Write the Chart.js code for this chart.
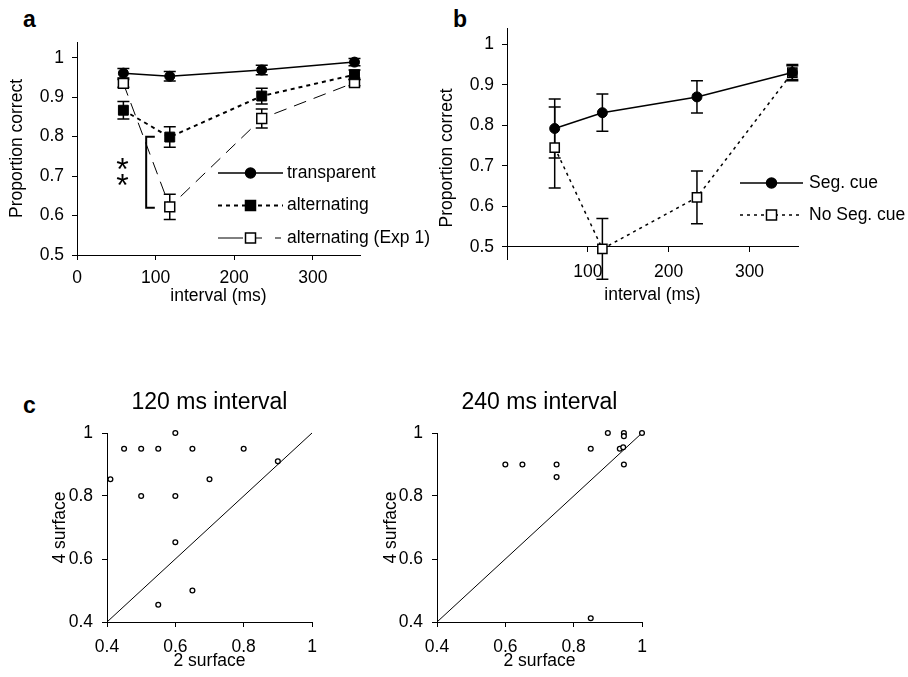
<!DOCTYPE html>
<html>
<head>
<meta charset="utf-8">
<script src="https://cdn.jsdelivr.net/npm/chart.js@4.4.0/dist/chart.umd.min.js"></script>
<style>
  body { margin: 0; background: #fff; width: 908px; height: 677px; position: relative; overflow: hidden;
         font-family: "Liberation Sans", Arial, sans-serif; }
  canvas { position: absolute; }
  .panel { position: absolute; font-weight: bold; font-size: 23px; line-height: 1; }
</style>
</head>
<body>
<div class="panel" style="left:23px;top:8px">a</div>
<div class="panel" style="left:453px;top:8px">b</div>
<div class="panel" style="left:23px;top:394px">c</div>
<canvas id="chartA" width="440" height="290" style="left:0;top:30px"></canvas>
<canvas id="chartB" width="472" height="320" style="left:436px;top:0"></canvas>
<canvas id="chartC1" width="330" height="297" style="left:0;top:380px"></canvas>
<canvas id="chartC2" width="340" height="297" style="left:330px;top:380px"></canvas>
<script>
// interval (ms) for panels a and b
const intervals = [59, 118, 235, 353];

// panel a
const transparent = [0.961, 0.953, 0.969, 0.989];
const transparentErr = [0.012, 0.012, 0.012, 0.009];
const alternating = [0.867, 0.799, 0.903, 0.957];
const alternatingErr = [0.022, 0.026, 0.02, 0.012];
const alternatingExp1 = [0.935, 0.622, 0.846, 0.937];
const alternatingExp1Err = [0.01, 0.032, 0.024, 0.008];

// panel b
const segCue = [0.792, 0.831, 0.870, 0.930];
const segCueErr = [0.073, 0.046, 0.04, 0.02];
const noSegCue = [0.745, 0.495, 0.622, 0.930];
const noSegCueErr = [0.1, 0.075, 0.065, 0.017];

// panel c: 2 surface vs 4 surface, per subject
const twoSurface120 = [0.41, 0.45, 0.5, 0.55, 0.6, 0.65, 0.8, 0.9, 0.7, 0.5, 0.6, 0.6, 0.65, 0.55];
const fourSurface120 = [0.853, 0.95, 0.95, 0.95, 1.0, 0.95, 0.95, 0.91, 0.853, 0.8, 0.8, 0.653, 0.5, 0.455];
const twoSurface240 = [0.6, 0.65, 0.75, 0.75, 0.85, 0.85, 0.9, 0.935, 0.945, 0.947, 0.947, 0.947, 1.0];
const fourSurface240 = [0.9, 0.9, 0.9, 0.86, 0.95, 0.412, 1.0, 0.95, 0.955, 1.0, 0.99, 0.9, 1.0];
const diagonal = [0.4, 1];

// ticks
const intervalTicks = [0, 100, 200, 300];
const intervalTicksB = [100, 200, 300];
const proportionTicks = [0.5, 0.6, 0.7, 0.8, 0.9, 1];
const surfaceTicks = [0.4, 0.6, 0.8, 1];

// significance bracket in panel a
const bracketX = [88, 99];
const bracketY = [0.8, 0.62];
const starX = 58;
const starY = [0.736, 0.695];

const FAMILY = '"Liberation Sans", Arial, sans-serif';
const font = { family: FAMILY, size: 17.5 };
Chart.defaults.color = '#000';
Chart.defaults.font.family = FAMILY;

const pts = (xs, ys) => xs.map((x, i) => ({ x, y: ys[i] }));
const fixedTicks = values => scale => { scale.ticks = values.map(v => ({ value: v })); };
const noPadding = s => { s.paddingTop = 0; s.paddingBottom = 0; s.paddingLeft = 0; s.paddingRight = 0; };

function axisX(min, max, ticks, title, height, tickPad, titlePad, extra = {}) {
  return {
    type: 'linear', min, max,
    afterBuildTicks: fixedTicks(ticks),
    afterFit: s => { s.height = height; noPadding(s); },
    border: { display: true, color: '#000', width: 1 },
    grid: { display: true, drawOnChartArea: false, drawTicks: true, tickLength: 5, color: '#000' },
    ticks: { font, padding: tickPad, maxRotation: 0, callback: v => String(v) },
    title: { display: true, text: title, font, padding: { top: 0, bottom: titlePad } },
    ...extra,
  };
}

function axisY(min, max, ticks, title, width, titlePad, tickPad = 8) {
  return {
    type: 'linear', min, max,
    afterBuildTicks: fixedTicks(ticks),
    afterFit: s => { s.width = width; noPadding(s); },
    border: { display: true, color: '#000', width: 1 },
    grid: { display: true, drawOnChartArea: false, drawTicks: true, tickLength: 5, color: '#000' },
    ticks: { font, padding: tickPad, callback: v => String(v) },
    title: { display: title !== null, text: title || '', font, padding: { top: titlePad, bottom: 0 } },
  };
}

// vertical error bars, drawn under the markers
const errorBars = {
  id: 'errorBars',
  beforeDatasetsDraw(chart) {
    const { ctx, scales: { y } } = chart;
    ctx.save();
    ctx.strokeStyle = '#000';
    ctx.lineWidth = 1.5;
    chart.data.datasets.forEach((ds, di) => {
      if (!ds.errors) return;
      const meta = chart.getDatasetMeta(di);
      ds.data.forEach((p, i) => {
        const px = meta.data[i].x;
        const top = y.getPixelForValue(p.y + ds.errors[i]);
        const bot = y.getPixelForValue(p.y - ds.errors[i]);
        ctx.beginPath();
        ctx.moveTo(px, top); ctx.lineTo(px, bot);
        ctx.moveTo(px - 6, top); ctx.lineTo(px + 6, top);
        ctx.moveTo(px - 6, bot); ctx.lineTo(px + 6, bot);
        ctx.stroke();
      });
    });
    ctx.restore();
  },
};

// bracket and asterisks in panel a
const sigMarks = {
  id: 'sigMarks',
  afterDraw(chart, args, opts) {
    if (!opts.show) return;
    const { ctx, scales: { x, y } } = chart;
    const x0 = x.getPixelForValue(bracketX[0]);
    const x1 = x.getPixelForValue(bracketX[1]);
    const y0 = y.getPixelForValue(bracketY[0]);
    const y1 = y.getPixelForValue(bracketY[1]);
    ctx.save();
    ctx.strokeStyle = '#000';
    ctx.lineWidth = 2;
    ctx.beginPath();
    ctx.moveTo(x1, y0); ctx.lineTo(x0, y0); ctx.lineTo(x0, y1); ctx.lineTo(x1, y1);
    ctx.stroke();
    ctx.fillStyle = '#000';
    ctx.font = '32px ' + FAMILY;
    ctx.textAlign = 'center';
    ctx.textBaseline = 'alphabetic';
    starY.forEach(v => ctx.fillText('*', x.getPixelForValue(starX), y.getPixelForValue(v) + 18));
    ctx.restore();
  },
};

// y title placed a bit below the plot centre (panel b)
const sideTitle = {
  id: 'sideTitle',
  afterDraw(chart, args, opts) {
    if (!opts.text) return;
    const ctx = chart.ctx;
    ctx.save();
    ctx.translate(opts.x, opts.y);
    ctx.rotate(-Math.PI / 2);
    ctx.fillStyle = '#000';
    ctx.font = '17.5px ' + FAMILY;
    ctx.textAlign = 'center';
    ctx.textBaseline = 'middle';
    ctx.fillText(opts.text, 0, 0);
    ctx.restore();
  },
};

// legend with line + marker sample, like the original figure
function drawMarker(ctx, kind, fill, cx, cy) {
  ctx.fillStyle = fill;
  ctx.strokeStyle = '#000';
  ctx.lineWidth = 1.5;
  ctx.setLineDash([]);
  ctx.beginPath();
  if (kind === 'circle') ctx.arc(cx, cy, 5, 0, Math.PI * 2);
  else ctx.rect(cx - 5, cy - 5, 10, 10);
  ctx.fill();
  ctx.stroke();
}

const sampleLegend = {
  id: 'sampleLegend',
  afterDraw(chart, args, opts) {
    if (!opts.items) return;
    const ctx = chart.ctx;
    ctx.save();
    opts.items.forEach((it, k) => {
      const yy = opts.y + k * opts.gap;
      ctx.strokeStyle = '#000';
      ctx.lineWidth = it.width;
      ctx.setLineDash(it.dash || []);
      (it.segments || [[0, opts.len]]).forEach(([a, b]) => {
        ctx.beginPath();
        ctx.moveTo(opts.x + a, yy); ctx.lineTo(opts.x + b, yy);
        ctx.stroke();
      });
      drawMarker(ctx, it.marker, it.fill, opts.x + opts.len / 2, yy);
      ctx.fillStyle = '#000';
      ctx.font = '17.5px ' + FAMILY;
      ctx.textAlign = 'left';
      ctx.textBaseline = 'middle';
      ctx.fillText(it.label, opts.x + opts.len + opts.textGap, yy);
    });
    ctx.restore();
  },
};

const common = {
  responsive: false,
  animation: false,
  devicePixelRatio: 1,
  events: [],
};

// panel a
new Chart(document.getElementById('chartA'), {
  type: 'line',
  data: {
    datasets: [
      { label: 'transparent', data: pts(intervals, transparent), errors: transparentErr,
        borderColor: '#000', borderWidth: 1.5, pointStyle: 'circle', pointRadius: 5,
        pointBackgroundColor: '#000', pointBorderColor: '#000', pointBorderWidth: 1, clip: false },
      { label: 'alternating', data: pts(intervals, alternating), errors: alternatingErr,
        borderColor: '#000', borderWidth: 2, borderDash: [4, 4], pointStyle: 'rect', pointRadius: 7,
        pointBackgroundColor: '#000', pointBorderColor: '#000', pointBorderWidth: 1, clip: false },
      { label: 'alternating (Exp 1)', data: pts(intervals, alternatingExp1), errors: alternatingExp1Err,
        borderColor: '#000', borderWidth: 1, borderDash: [13, 8], pointStyle: 'rect', pointRadius: 7,
        pointBackgroundColor: '#fff', pointBorderColor: '#000', pointBorderWidth: 1.5, clip: false },
    ],
  },
  options: {
    ...common,
    layout: { padding: { top: 12, right: 80, left: 0, bottom: 0 } },
    scales: {
      x: axisX(0, 360, intervalTicks, 'interval (ms)', 65, 7.5, 13.5),
      y: axisY(0.5, 1.04, proportionTicks, 'Proportion correct', 77, 7),
    },
    plugins: {
      legend: { display: false },
      tooltip: { enabled: false },
      sigMarks: { show: true },
      sampleLegend: {
        x: 218, y: 143, gap: 32.5, len: 65, textGap: 4,
        items: [
          { label: 'transparent', marker: 'circle', fill: '#000', width: 1.5 },
          { label: 'alternating', marker: 'rect', fill: '#000', width: 2, dash: [4, 4] },
          { label: 'alternating (Exp 1)', marker: 'rect', fill: '#fff', width: 1,
            segments: [[0, 25], [38, 44], [57, 63]] },
        ],
      },
    },
  },
  plugins: [errorBars, sigMarks, sampleLegend],
});

// panel b (x axis crosses at 0.5, y axis runs a little below it)
new Chart(document.getElementById('chartB'), {
  type: 'line',
  data: {
    datasets: [
      { label: 'Seg. cue', data: pts(intervals, segCue), errors: segCueErr,
        borderColor: '#000', borderWidth: 1.5, pointStyle: 'circle', pointRadius: 5,
        pointBackgroundColor: '#000', pointBorderColor: '#000', pointBorderWidth: 1, clip: false },
      { label: 'No Seg. cue', data: pts(intervals, noSegCue), errors: noSegCueErr,
        borderColor: '#000', borderWidth: 1.5, borderDash: [3, 4], pointStyle: 'rect', pointRadius: 6.5,
        pointBackgroundColor: '#fff', pointBorderColor: '#000', pointBorderWidth: 1.5, clip: false },
    ],
  },
  options: {
    ...common,
    layout: { padding: { top: 28, right: 110, left: 0, bottom: 61 } },
    scales: {
      x: axisX(0, 360, intervalTicksB, 'interval (ms)', 61, 9.5, 2.5, { position: { y: 0.5 } }),
      y: axisY(0.47, 1.04, proportionTicks, null, 71, 0),
    },
    plugins: {
      legend: { display: false },
      tooltip: { enabled: false },
      sideTitle: { text: 'Proportion correct', x: 11, y: 158 },
      sampleLegend: {
        x: 304, y: 183, gap: 32, len: 63, textGap: 6,
        items: [
          { label: 'Seg. cue', marker: 'circle', fill: '#000', width: 1.5 },
          { label: 'No Seg. cue', marker: 'rect', fill: '#fff', width: 1.5, dash: [3, 4] },
        ],
      },
    },
  },
  plugins: [errorBars, sideTitle, sampleLegend],
});

// panel c
function surfaceChart(id, title, xs, ys, yTitlePad, rightPad) {
  return new Chart(document.getElementById(id), {
    type: 'scatter',
    data: {
      datasets: [
        { data: pts(xs, ys), pointStyle: 'circle', pointRadius: 2.4, pointBorderWidth: 1.3,
          pointBackgroundColor: '#fff', pointBorderColor: '#000', clip: false },
        { data: pts(diagonal, diagonal), showLine: true, borderColor: '#000', borderWidth: 1,
          pointRadius: 0, clip: false },
      ],
    },
    options: {
      ...common,
      layout: { padding: { top: 0, right: rightPad, left: 0, bottom: 0 } },
      scales: {
        x: axisX(0.4, 1, surfaceTicks, '2 surface', 55, 9.5, 5.5),
        y: axisY(0.4, 1, surfaceTicks, '4 surface', 107, yTitlePad, 9),
      },
      plugins: {
        legend: { display: false },
        tooltip: { enabled: false },
        title: {
          display: true, text: title, fullSize: false, color: '#000',
          font: { family: FAMILY, size: 23, weight: 'normal' },
          padding: { top: 9.2, bottom: 16.2 },
        },
      },
    },
  });
}

surfaceChart('chartC1', '120 ms interval', twoSurface120, fourSurface120, 49.5, 18);
surfaceChart('chartC2', '240 ms interval', twoSurface240, fourSurface240, 50.5, 28);
</script>
</body>
</html>
